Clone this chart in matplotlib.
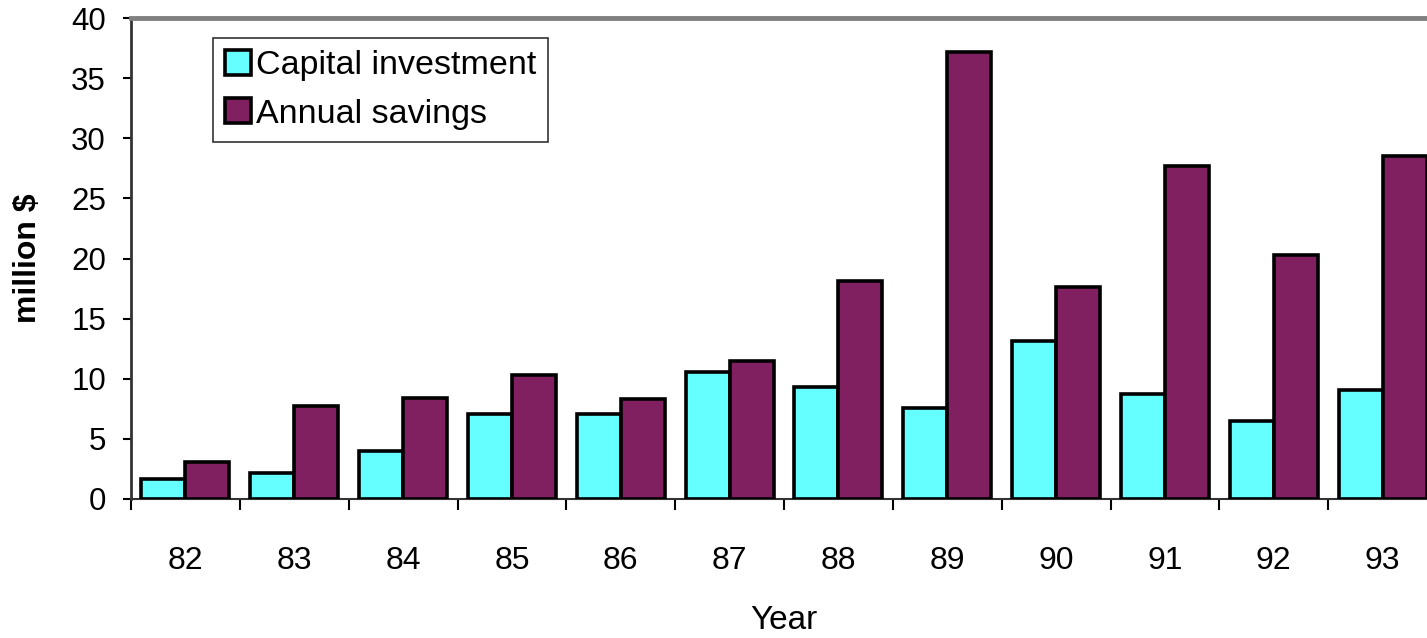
import matplotlib
matplotlib.use("Agg")
import matplotlib.pyplot as plt
import numpy as np

years = ["82", "83", "84", "85", "86", "87", "88", "89", "90", "91", "92", "93"]
capital_investment = [1.7, 2.2, 4.0, 7.1, 7.1, 10.6, 9.3, 7.6, 13.1, 8.7, 6.5, 9.1]
annual_savings = [3.1, 7.7, 8.4, 10.3, 8.3, 11.5, 18.1, 37.2, 17.6, 27.7, 20.3, 28.5]

plt.rcParams["font.family"] = ["Liberation Sans", "DejaVu Sans"]

fig = plt.figure(figsize=(14.27, 6.38), dpi=100)
ax = fig.add_axes([131 / 1427, 139 / 638, 1306 / 1427, 481 / 638])

x = np.arange(len(years))
w = 0.405
ax.bar(x - w / 2, capital_investment, w, color="#66FFFF", edgecolor="black",
       linewidth=2.6, label="Capital investment", zorder=3)
ax.bar(x + w / 2, annual_savings, w, color="#802060", edgecolor="black",
       linewidth=2.6, label="Annual savings", zorder=3)

ax.set_xlim(-0.5, len(years) - 0.5)
ax.set_ylim(0, 40)
ax.set_yticks(range(0, 41, 5))
ax.tick_params(axis="y", labelsize=22.5, length=6, width=1.5, direction="out", pad=12)

# category labels centred under each group, tick marks between groups
ax.set_xticks(x)
ax.set_xticklabels(years)
ax.tick_params(axis="x", which="major", length=0, labelsize=23, pad=34)
ax.set_xticks(np.arange(-0.5, len(years), 1), minor=True)
ax.tick_params(axis="x", which="minor", length=8, width=1.5, direction="out")

ax.spines["left"].set_linewidth(2)
ax.spines["left"].set_color("#333333")
ax.spines["bottom"].set_linewidth(1.5)
ax.spines["bottom"].set_color("#333333")
ax.spines["top"].set_linewidth(3.5)
ax.spines["top"].set_color("#808080")
ax.spines["right"].set_visible(False)

ax.set_ylabel("million $", fontsize=23, fontweight="bold", labelpad=20)
ax.set_xlabel("Year", fontsize=24, labelpad=21)

leg = ax.legend(loc="upper left", bbox_to_anchor=(0.063, 0.958), fontsize=24.5,
                frameon=True, fancybox=False, edgecolor="black",
                handlelength=0.75, handleheight=0.75, handletextpad=0.15,
                borderpad=0.35, labelspacing=0.5, borderaxespad=0)
leg.get_frame().set_linewidth(1.2)

fig.savefig("out.png", dpi=100)
